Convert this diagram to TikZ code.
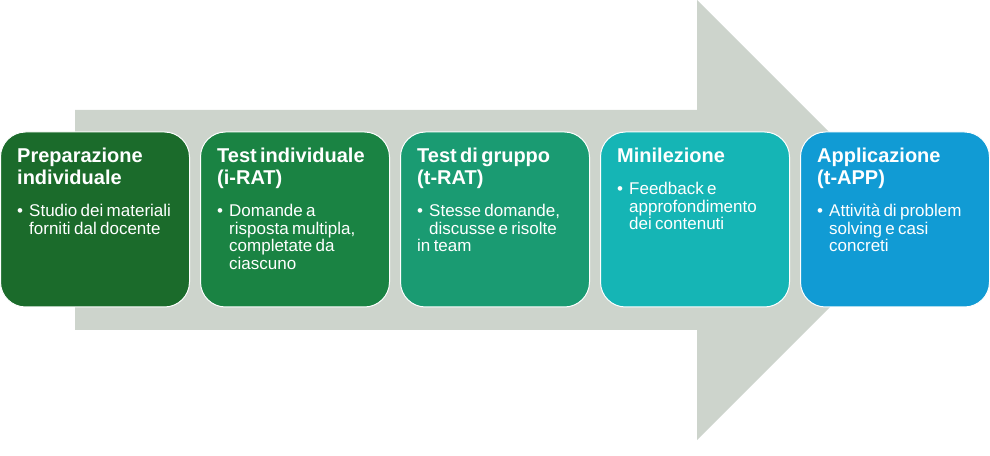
\documentclass[tikz,border=0pt]{standalone}
\usepackage{fontspec}
\setmainfont{Liberation Sans}
\usepackage{tikz}
\definecolor{freccia}{HTML}{CDD4CC}
\definecolor{verdescuro}{HTML}{1B6B2B}
\definecolor{verde}{HTML}{1A8343}
\definecolor{verdeacqua}{HTML}{1A9B72}
\definecolor{turchese}{HTML}{15B5B5}
\definecolor{azzurro}{HTML}{119BD4}
\hyphenpenalty=10000
\exhyphenpenalty=10000
\newcommand{\titolo}[1]{{\fontsize{20}{22}\bfseries\rule{0pt}{15pt}#1\par}}
\newcommand{\voce}[1]{\fontsize{17}{17.5}\selectfont\vspace{14.5pt}\hangindent=12pt\hangafter=1\noindent\makebox[12pt][l]{\textbullet}#1\par}
\tikzstyle{fase} = [rectangle, rounded corners=25pt, minimum width=189pt, minimum height=175pt, draw=white, line width=1pt]
\tikzstyle{testo} = [anchor=north west, inner sep=0pt, text width=158pt, align=left, text=white, xshift=17pt, yshift=-16pt]

\begin{document}
\begin{tikzpicture}[x=1pt, y=1pt, node distance=200pt]
	\useasboundingbox (0,0) rectangle (990,455);
	% freccia di sfondo
	\fill [freccia] (75,125) -- (697,125) -- (697,15) -- (917,235) -- (697,455) -- (697,345) -- (75,345) -- cycle;
	\node (prep) [fase, fill=verdescuro] at (95,235.5) {};
	\node (irat) [fase, fill=verde, right of=prep] {};
	\node (trat) [fase, fill=verdeacqua, right of=irat] {};
	\node (mini) [fase, fill=turchese, right of=trat] {};
	\node (tapp) [fase, fill=azzurro, right of=mini] {};
	\node (prep-txt) [testo] at (prep.north west) {\titolo{Preparazione\\individuale}\voce{Studio dei materiali forniti dal docente}};
	\node (irat-txt) [testo] at (irat.north west) {\titolo{Test individuale\\(i-RAT)}\voce{Domande a risposta multipla, completate da ciascuno}};
	\node (trat-txt) [testo] at (trat.north west) {\titolo{Test di gruppo\\(t-RAT)}\voce{Stesse domande, discusse e risolte\\in team}};
	\node (mini-txt) [testo] at (mini.north west) {\titolo{Minilezione}\voce{Feedback e approfondimento dei contenuti}};
	\node (tapp-txt) [testo] at (tapp.north west) {\titolo{Applicazione\\(t-APP)}\voce{Attività di problem solving e casi concreti}};
\end{tikzpicture}
\end{document}
